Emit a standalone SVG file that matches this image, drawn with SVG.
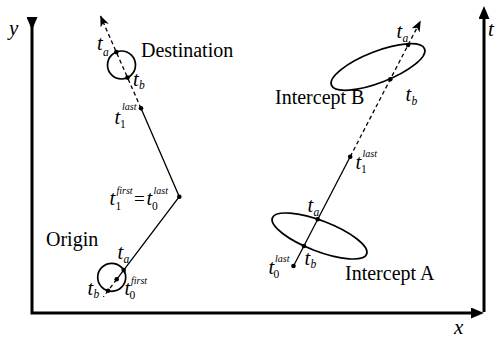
<svg xmlns="http://www.w3.org/2000/svg" width="496" height="342" viewBox="0 0 496 342">
<defs>
<style>
.axis{fill:none;stroke:#000;stroke-width:3;stroke-linejoin:miter}
.tr{fill:none;stroke:#000;stroke-width:1.3}
.dash{fill:none;stroke:#000;stroke-width:1.3;stroke-dasharray:4,3}
.reg{fill:none;stroke:#000;stroke-width:1.7}
.dot{fill:#000}
text{fill:#000}
.lbl{font-size:20px}
.ax{font-size:21px;font-style:italic}
.t{font-size:20.5px;font-style:italic}
.sub{font-size:11.5px;font-style:italic}
.num{font-size:11.5px}
.sup{font-size:10px;font-style:italic}
.eq{font-size:19px}
</style>
<marker id="axArrow" markerUnits="userSpaceOnUse" markerWidth="13" markerHeight="11" viewBox="0 0 13 11" refX="1" refY="5.5" orient="auto">
<path d="M0,0 L13,5.5 L0,11 z" fill="#000"/>
</marker>
<marker id="dArrow" markerUnits="userSpaceOnUse" markerWidth="11" markerHeight="9" viewBox="0 0 11 9" refX="10.5" refY="4.5" orient="auto">
<path d="M0,0 L11,4.5 L0,9 L3,4.5 z" fill="#000"/>
</marker>
</defs>

<g font-family="Liberation Serif, DejaVu Serif, serif">
<g id="axes">
<path class="axis" d="M32,18 V313 H472" marker-start="url(#axArrow)" marker-end="url(#axArrow)"/>
<path class="axis" d="M484,312 V18" marker-end="url(#axArrow)"/>
<text class="ax" x="9" y="35">y</text>
<text class="ax" x="488" y="36">t</text>
<text class="ax" x="454" y="334">x</text>
</g>

<g id="connectors">
<path class="dash" d="M141,108.3 L100.5,16" marker-end="url(#dArrow)"/>
<path class="tr" d="M141,108.3 L179.3,196.7 L116.7,279.3"/>
<path class="dash" d="M116.7,279.3 L103.4,296.8"/>
<path class="tr" d="M293.5,266 L350.2,156.7"/>
<path class="dash" d="M350.2,156.7 L420.5,21" marker-end="url(#dArrow)"/>
</g>

<g id="destination">
<circle class="reg" cx="121.5" cy="65" r="14"/>
<circle class="dot" cx="116.3" cy="52.1" r="2.3"/>
<circle class="dot" cx="127.5" cy="77.6" r="2.3"/>
<text class="lbl" x="141" y="57">Destination</text>
<text class="t" x="97" y="50">t</text><text class="sub" x="103" y="55.5">a</text>
<text class="t" x="133" y="85.5">t</text><text class="sub" x="139" y="89">b</text>
</g>

<g id="t1last-left">
<circle class="dot" cx="141" cy="108.3" r="2.3"/>
<text class="t" x="114.5" y="123.5">t</text><text class="num" x="120" y="127.5">1</text><text class="sup" x="122" y="110">last</text>
</g>

<g id="t1first">
<circle class="dot" cx="179.3" cy="196.7" r="2.3"/>
<text class="t" x="109.5" y="205">t</text><text class="num" x="115.5" y="209.5">1</text><text class="sup" x="116.5" y="194">first</text>
<text class="eq" x="134" y="205">=</text>
<text class="t" x="146.5" y="205">t</text><text class="num" x="152" y="209.5">0</text><text class="sup" x="153.5" y="194">last</text>
</g>

<g id="origin">
<circle class="reg" cx="111.7" cy="277.3" r="14"/>
<circle class="dot" cx="123.7" cy="270.1" r="2.3"/>
<circle class="dot" cx="116.7" cy="279.3" r="2.3"/>
<circle class="dot" cx="108" cy="290.8" r="2.3"/>
<text class="lbl" x="46" y="246">Origin</text>
<text class="t" x="117.5" y="258.5">t</text><text class="sub" x="123.5" y="262.5">a</text>
<text class="t" x="87.5" y="294.5">t</text><text class="sub" x="93.5" y="298">b</text>
<text class="t" x="124.5" y="294.5">t</text><text class="num" x="129.5" y="298.5">0</text><text class="sup" x="131" y="284">first</text>
</g>

<g id="interceptB">
<ellipse class="reg" cx="0" cy="0" rx="50" ry="15.6" transform="translate(378,67) rotate(-21.3)"/>
<circle class="dot" cx="408.1" cy="45" r="2.3"/>
<circle class="dot" cx="390.3" cy="79.3" r="2.3"/>
<text class="lbl" x="275" y="104">Intercept B</text>
<text class="t" x="396.5" y="37.5">t</text><text class="sub" x="402.5" y="41.5">a</text>
<text class="t" x="405.5" y="100.5">t</text><text class="sub" x="411.5" y="104.5">b</text>
</g>

<g id="t1last-right">
<circle class="dot" cx="350.2" cy="156.7" r="2.3"/>
<text class="t" x="355.5" y="168.5">t</text><text class="num" x="361" y="172.5">1</text><text class="sup" x="362.5" y="157">last</text>
</g>

<g id="interceptA">
<ellipse class="reg" cx="0" cy="0" rx="50.5" ry="15.2" transform="translate(319.5,236) rotate(21)"/>
<circle class="dot" cx="317.7" cy="219.3" r="2.3"/>
<circle class="dot" cx="303.9" cy="246" r="2.3"/>
<text class="lbl" x="345" y="280">Intercept A</text>
<text class="t" x="307.5" y="211.5">t</text><text class="sub" x="313.5" y="215.5">a</text>
<text class="t" x="304.5" y="264.5">t</text><text class="sub" x="310.5" y="268">b</text>
</g>

<g id="t0last">
<circle class="dot" cx="293.5" cy="266" r="2.3"/>
<text class="t" x="268.5" y="273.5">t</text><text class="num" x="273.5" y="277.5">0</text><text class="sup" x="275" y="262">last</text>
</g>
</g>
</svg>
